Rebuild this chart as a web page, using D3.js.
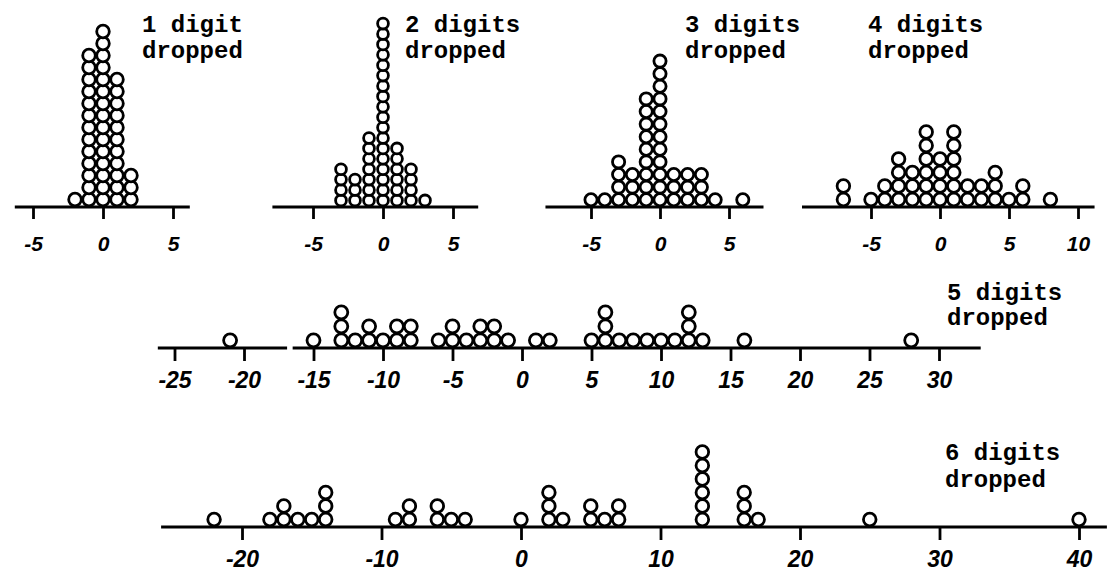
<!DOCTYPE html>
<html>
<head>
<meta charset="utf-8">
<script src="https://cdn.jsdelivr.net/npm/d3@7"></script>
<style>
  body { margin: 0; background: #fff; }
  .title { font-family: "Liberation Mono", "DejaVu Sans Mono", monospace; font-weight: bold; font-size: 24px; fill: #000; }
  .axis text { font-family: "Liberation Sans", Arial, sans-serif; font-style: italic; font-weight: bold; fill: #000; }
  .axis line { stroke: #000; stroke-width: 2.8; }
  .baseline { stroke: #000; stroke-width: 2.8; }
  .dot { fill: #fff; stroke: #000; stroke-width: 2.8; }
</style>
</head>
<body>
<script>
// values (difference) and how many dots are stacked on each
var p1Values = [-2, -1, 0, 1, 2];
var p1Counts = [1, 13, 15, 11, 3];

var p2Values = [-3, -2, -1, 0, 1, 2, 3];
var p2Counts = [4, 3, 7, 18, 6, 4, 1];

var p3Values = [-5, -4, -3, -2, -1, 0, 1, 2, 3, 4, 6];
var p3Counts = [1, 1, 4, 3, 9, 12, 3, 3, 3, 1, 1];

var p4Values = [-7, -5, -4, -3, -2, -1, 0, 1, 2, 3, 4, 5, 6, 8];
var p4Counts = [2, 1, 2, 4, 3, 6, 4, 6, 2, 2, 3, 1, 2, 1];

var p5Values = [-21, -15, -13, -12, -11, -10, -9, -8, -6, -5, -4, -3, -2, -1, 1, 2, 5, 6, 7, 8, 9, 10, 11, 12, 13, 16, 28];
var p5Counts = [1, 1, 3, 1, 2, 1, 2, 2, 1, 2, 1, 2, 2, 1, 1, 1, 1, 3, 1, 1, 1, 1, 1, 3, 1, 1, 1];

var p6Values = [-22, -18, -17, -16, -15, -14, -9, -8, -6, -5, -4, 0, 2, 3, 5, 6, 7, 13, 16, 17, 25, 40];
var p6Counts = [1, 1, 2, 1, 1, 3, 1, 2, 2, 1, 1, 1, 3, 1, 2, 1, 2, 6, 3, 1, 1, 1];

var smallTicks = [-5, 0, 5];
var p4Ticks = [-5, 0, 5, 10];
var p5Ticks = [-25, -20, -15, -10, -5, 0, 5, 10, 15, 20, 25, 30];
var p6Ticks = [-20, -10, 0, 10, 20, 30, 40];

var titles = ["1 digit", "2 digits", "3 digits", "4 digits", "5 digits", "6 digits"];

// layout of each panel (pixels)
var panels = [
  {values: p1Values, counts: p1Counts, ticks: smallTicks, lo: -6.3, hi: 6.2, zero: 103, unit: 14, base: 207, r: 6.3, step: 12, tick: 12, lab: 44, fs: 21, tx: 142, ty: 32, lh: 26},
  {values: p2Values, counts: p2Counts, ticks: smallTicks, lo: -7.9, hi: 6.8, zero: 383, unit: 14, base: 207, r: 5.4, step: 10.4, tick: 12, lab: 44, fs: 21, tx: 405, ty: 32, lh: 26},
  {values: p3Values, counts: p3Counts, ticks: smallTicks, lo: -8.3, hi: 7.5, zero: 660, unit: 13.8, base: 207, r: 6.1, step: 12.6, tick: 12, lab: 44, fs: 21, tx: 685, ty: 32, lh: 26},
  {values: p4Values, counts: p4Counts, ticks: p4Ticks, lo: -10, hi: 11.2, zero: 940, unit: 13.8, base: 207, r: 6.3, step: 13.5, tick: 12, lab: 44, fs: 21, tx: 868, ty: 32, lh: 26},
  {values: p5Values, counts: p5Counts, ticks: p5Ticks, lo: -26.2, hi: 33, zero: 522, unit: 13.9, base: 348, r: 6.5, step: 14, tick: 13, lab: 40, fs: 23, tx: 947, ty: 300, lh: 25, gap: [-16.9, -16.5]},
  {values: p6Values, counts: p6Counts, ticks: p6Ticks, lo: -25.8, hi: 42, zero: 521, unit: 13.95, base: 527, r: 6.3, step: 13.5, tick: 13, lab: 40, fs: 23, tx: 945, ty: 460, lh: 27}
];

var svg = d3.select("body").append("svg")
  .attr("width", 1115)
  .attr("height", 573);

panels.forEach(function(p, k) {
  var x = d3.scaleLinear()
    .domain([p.lo, p.hi])
    .range([p.zero + p.lo * p.unit, p.zero + p.hi * p.unit]);

  var g = svg.append("g");

  // base line (panel 5 has a small break)
  var segs = p.gap ? [[p.lo, p.gap[0]], [p.gap[1], p.hi]] : [[p.lo, p.hi]];
  g.selectAll(".baseline")
    .data(segs)
    .enter().append("line")
    .attr("class", "baseline")
    .attr("x1", function(d) { return x(d[0]); })
    .attr("x2", function(d) { return x(d[1]); })
    .attr("y1", p.base)
    .attr("y2", p.base);

  var axis = d3.axisBottom(x)
    .tickValues(p.ticks)
    .tickSize(p.tick)
    .tickSizeOuter(0)
    .tickFormat(function(d) { return String(d); });

  var ax = g.append("g")
    .attr("class", "axis")
    .attr("transform", "translate(0," + p.base + ")")
    .call(axis);
  ax.select(".domain").remove();
  ax.attr("font-family", null).attr("font-size", null);
  ax.selectAll("text")
    .attr("y", p.lab)
    .attr("dy", null)
    .style("font-size", p.fs + "px");

  // stacked dots
  var dots = [];
  p.values.forEach(function(v, i) {
    for (var j = 0; j < p.counts[i]; j++) dots.push({v: v, j: j});
  });
  g.selectAll(".dot")
    .data(dots)
    .enter().append("circle")
    .attr("class", "dot")
    .attr("cx", function(d) { return x(d.v); })
    .attr("cy", function(d) { return p.base - p.r - 1.2 - d.j * p.step; })
    .attr("r", p.r);

  var t = g.append("text")
    .attr("class", "title")
    .attr("x", p.tx)
    .attr("y", p.ty);
  t.append("tspan").attr("x", p.tx).text(titles[k]);
  t.append("tspan").attr("x", p.tx).attr("dy", p.lh).text("dropped");
});
</script>
</body>
</html>
